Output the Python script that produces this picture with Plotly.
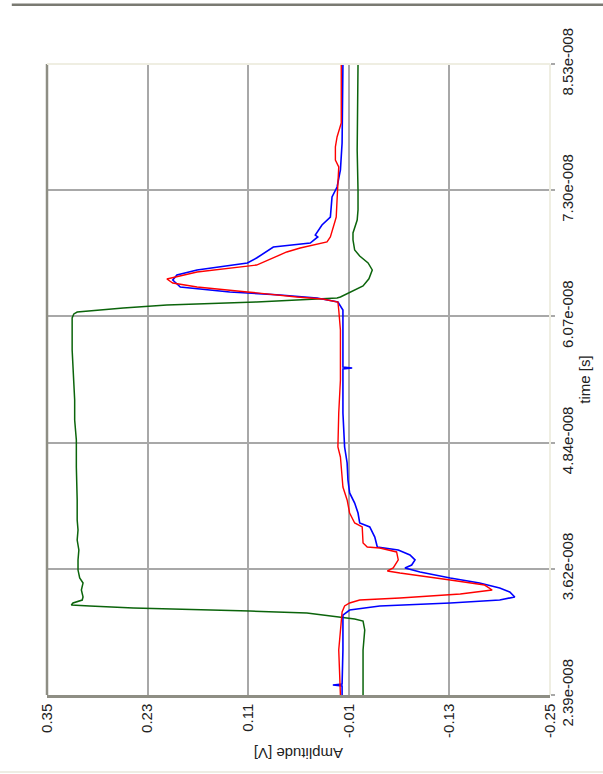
import plotly.graph_objects as go

# time in ns, amplitude in V
green_t = [23.90, 28.28, 30.23, 31.10, 31.30, 31.49, 31.88, 32.07, 32.37, 32.56, 32.66, 32.85, 33.14, 33.44,
           34.12, 34.80, 35.29, 36.06, 37.04, 38.01, 38.98, 39.96, 40.93, 42.88, 44.82, 46.09, 48.71,
           50.66, 52.61, 54.55, 55.53, 57.47, 59.42, 60.59, 60.98, 61.17, 61.56, 61.85, 62.14, 62.43,
           62.53, 62.63, 63.10, 63.70, 64.40, 65.26, 65.94, 66.62, 67.20, 68.18, 68.86, 70.12, 71.10,
           73.04, 76.93, 81.80, 85.30]
green_a = [-0.027, -0.027, -0.029, -0.027, -0.017, 0.000, 0.040, 0.108, 0.247, 0.299, 0.321, 0.319, 0.308, 0.307,
           0.309, 0.307, 0.311, 0.313, 0.313, 0.312, 0.314, 0.313, 0.314, 0.314, 0.315, 0.315, 0.315,
           0.317, 0.317, 0.318, 0.319, 0.320, 0.320, 0.320, 0.318, 0.314, 0.259, 0.207, 0.100, 0.028,
           0.004, 0.000, -0.012, -0.027, -0.034, -0.038, -0.033, -0.023, -0.017, -0.015, -0.015, -0.020, -0.021,
           -0.021, -0.020, -0.021, -0.021]

red_t = [23.90, 28.28, 31.98, 32.56, 32.85, 33.14, 33.34, 33.73, 34.12, 34.60, 35.09, 35.58, 35.77, 35.97,
         36.26, 37.04, 37.82, 38.20, 38.30, 38.69, 40.25, 40.64, 41.61, 42.88, 44.14, 45.11, 47.06, 48.03,
         51.34, 54.55, 59.42, 61.36, 62.14, 62.43, 62.63, 63.12, 63.60, 63.99, 64.38, 65.06, 65.55, 65.74,
         67.01, 67.40, 67.98, 68.47, 70.12, 70.41, 72.07, 73.33, 75.28, 75.96, 77.23, 78.20, 79.56, 85.30]
red_a = [0.000, 0.002, -0.002, -0.005, -0.011, -0.023, -0.071, -0.143, -0.181, -0.172, -0.131, -0.083, -0.071, -0.056,
         -0.063, -0.069, -0.067, -0.047, -0.032, -0.027, -0.026, -0.017, -0.011, -0.008, -0.003, -0.002, 0.000, 0.003,
         0.002, 0.000, 0.000, 0.002, 0.003, 0.021, 0.052, 0.111, 0.171, 0.200, 0.207, 0.171, 0.123, 0.100,
         0.064, 0.048, 0.016, 0.012, 0.006, 0.005, 0.004, 0.003, 0.002, 0.006, 0.006, 0.004, -0.001, -0.001]

blue_t = [23.90, 24.77, 24.87, 24.97, 28.28, 31.68, 32.17, 32.56, 32.85, 33.14, 33.44, 33.92, 34.31, 34.80,
          35.29, 35.87, 36.26, 36.55, 37.04, 37.52, 38.01, 38.30, 39.27, 40.25, 40.64, 41.61, 42.58, 43.56,
          44.82, 46.48, 48.03, 51.34, 54.55, 55.62, 55.72, 55.82, 59.42, 61.36, 62.14, 62.53, 62.82, 63.12,
          63.60, 64.28, 64.77, 65.06, 65.26, 65.94, 66.42, 67.49, 67.88, 68.47, 68.66, 69.64, 70.12, 70.41,
          71.39, 72.36, 73.33, 74.99, 77.61, 85.30]
blue_a = [-0.002, -0.002, 0.009, -0.002, -0.003, -0.003, -0.011, -0.047, -0.131, -0.190, -0.208, -0.202, -0.190, -0.166,
          -0.131, -0.095, -0.077, -0.085, -0.089, -0.083, -0.069, -0.044, -0.041, -0.035, -0.023, -0.021, -0.017, -0.011,
          -0.009, -0.008, -0.005, -0.003, -0.003, -0.003, -0.014, -0.003, -0.003, -0.003, 0.003, 0.028, 0.072, 0.132,
          0.191, 0.200, 0.195, 0.179, 0.171, 0.111, 0.100, 0.080, 0.036, 0.027, 0.030, 0.022, 0.016, 0.012,
          0.011, 0.010, 0.004, 0.000, -0.002, -0.003]

amp_ticks = [0.35, 0.23, 0.11, -0.01, -0.13, -0.25]
amp_labels = ["0.35", "0.23", "0.11", "-0.01", "-0.13", "-0.25"]
time_ticks = [23.90, 36.18, 48.46, 60.74, 73.02, 85.30]
time_labels = ["2.39e-008", "3.62e-008", "4.84e-008", "6.07e-008", "7.30e-008", "8.53e-008"]

fig = go.Figure()
fig.add_trace(go.Scatter(x=green_a, y=green_t, mode="lines", line=dict(color="#0b640b", width=1.5)))
fig.add_trace(go.Scatter(x=blue_a, y=blue_t, mode="lines", line=dict(color="#0000ff", width=1.6)))
fig.add_trace(go.Scatter(x=red_a, y=red_t, mode="lines", line=dict(color="#ff0000", width=1.4)))

font = dict(family="Liberation Sans Narrow, Liberation Sans, Arial", size=15, color="#222222")

fig.update_layout(
    width=603, height=774,
    margin=dict(l=47, r=53, t=64, b=79),
    paper_bgcolor="white", plot_bgcolor="white",
    showlegend=False,
    font=font,
    xaxis=dict(range=[0.35, -0.25], tickvals=amp_ticks, ticktext=amp_labels, tickangle=-90,
               showgrid=True, gridcolor="#a8a8a8", gridwidth=1.5, zeroline=False,
               showline=True, linecolor="#8e8e84", linewidth=2.5, ticks="", tickfont=font),
    yaxis=dict(range=[23.90, 85.30], tickvals=time_ticks, ticktext=time_labels, tickangle=-90,
               side="right", showgrid=True, gridcolor="#a8a8a8", gridwidth=1.5, zeroline=False,
               showline=False, ticks="outside", ticklen=4, tickcolor="#a8a8a8", tickwidth=1.5,
               tickfont=font, title=dict(text="time [s]", font=font, standoff=4)),
)

# plot frame
fig.add_shape(type="line", xref="paper", yref="paper", x0=0, x1=0, y0=0, y1=1,
              line=dict(color="#8e8e84", width=2.5))
fig.add_shape(type="line", xref="paper", yref="paper", x0=0, x1=1, y0=1, y1=1,
              line=dict(color="#efeee2", width=2))
fig.add_shape(type="line", xref="paper", yref="paper", x0=1, x1=1, y0=0, y1=1,
              line=dict(color="#efeee2", width=2))
# window borders
fig.add_shape(type="line", xref="paper", yref="paper", x0=-0.07, x1=1.2, y0=1.094, y1=1.094,
              line=dict(color="#7a7a72", width=2.5))
fig.add_shape(type="line", xref="paper", yref="paper", x0=-0.1, x1=1.2, y0=-0.122, y1=-0.122,
              line=dict(color="#eeede4", width=2))

fig.add_annotation(text="Amplitude [V]", xref="paper", yref="paper", x=0.5, y=-0.093,
                   showarrow=False, textangle=180, font=font, yanchor="middle")

fig.write_html("out.html")
